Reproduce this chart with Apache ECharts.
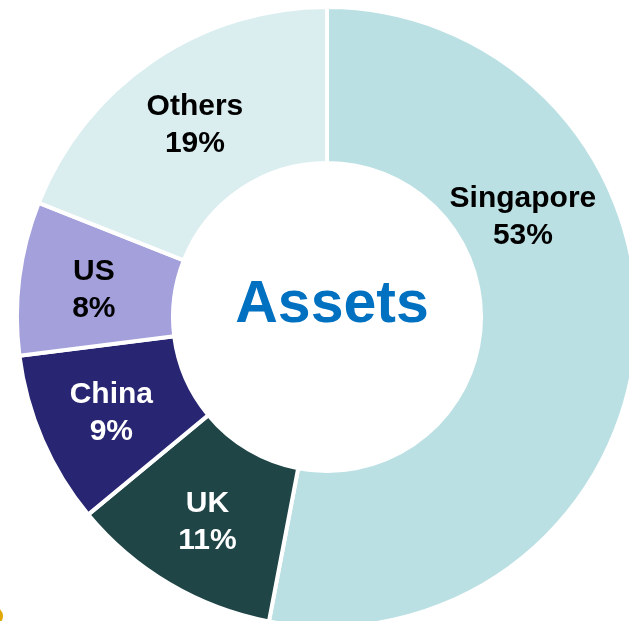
<!DOCTYPE html>
<html>
<head>
<meta charset="utf-8">
<script src="https://cdn.jsdelivr.net/npm/echarts@6/dist/echarts.min.js"></script>
<style>
  html, body { margin: 0; padding: 0; background: #fff; }
  #main { width: 629px; height: 621px; }
</style>
</head>
<body>
<div id="main"></div>
<script>
// 资产分布
const names = ['Singapore', 'UK', 'China', 'US', 'Others']
const shares = [53, 11, 9, 8, 19]
const colors = ['#BBE0E3', '#1F4547', '#282672', '#A3A0DC', '#DAEDEF']
const labelColors = ['#000', '#fff', '#fff', '#000', '#000']

let myChart = echarts.init(document.getElementById('main'))

const data = names.map((n, i) => {
    let item = {
        name: n,
        value: shares[i],
        itemStyle: { color: colors[i] },
        label: { color: labelColors[i] }
    }
    // Singapore的标签往上挪
    if (n === 'Singapore') item.label.offset = [-38, -122]
    return item
})

const option = {
    animation: false,
    backgroundColor: '#fff',
    graphic: [{
        type: 'circle',
        z: 100,
        shape: { cx: -6, cy: 616, r: 9 },
        style: { fill: '#E0A800' }
    }, {
        type: 'text',
        z: 100,
        x: 332,
        y: 306,
        style: {
            text: 'Assets',
            fill: '#0070C0',
            font: 'bold 59px "Liberation Sans", Arial, sans-serif',
            textAlign: 'center',
            textVerticalAlign: 'middle'
        }
    }],
    series: [{
        type: 'pie',
        center: [327, 317],
        radius: [154, 310],
        startAngle: 90,
        clockwise: true,
        itemStyle: {
            borderColor: '#fff',
            borderWidth: 4
        },
        label: {
            show: true,
            position: 'inside',
            formatter: '{b}\n{c}%',
            fontFamily: '"Liberation Sans", Arial, sans-serif',
            fontWeight: 'bold',
            fontSize: 30,
            lineHeight: 37,
            offset: [0, 3]
        },
        labelLine: { show: false },
        emphasis: { disabled: true },
        data
    }]
}
myChart.setOption(option)
</script>
</body>
</html>
